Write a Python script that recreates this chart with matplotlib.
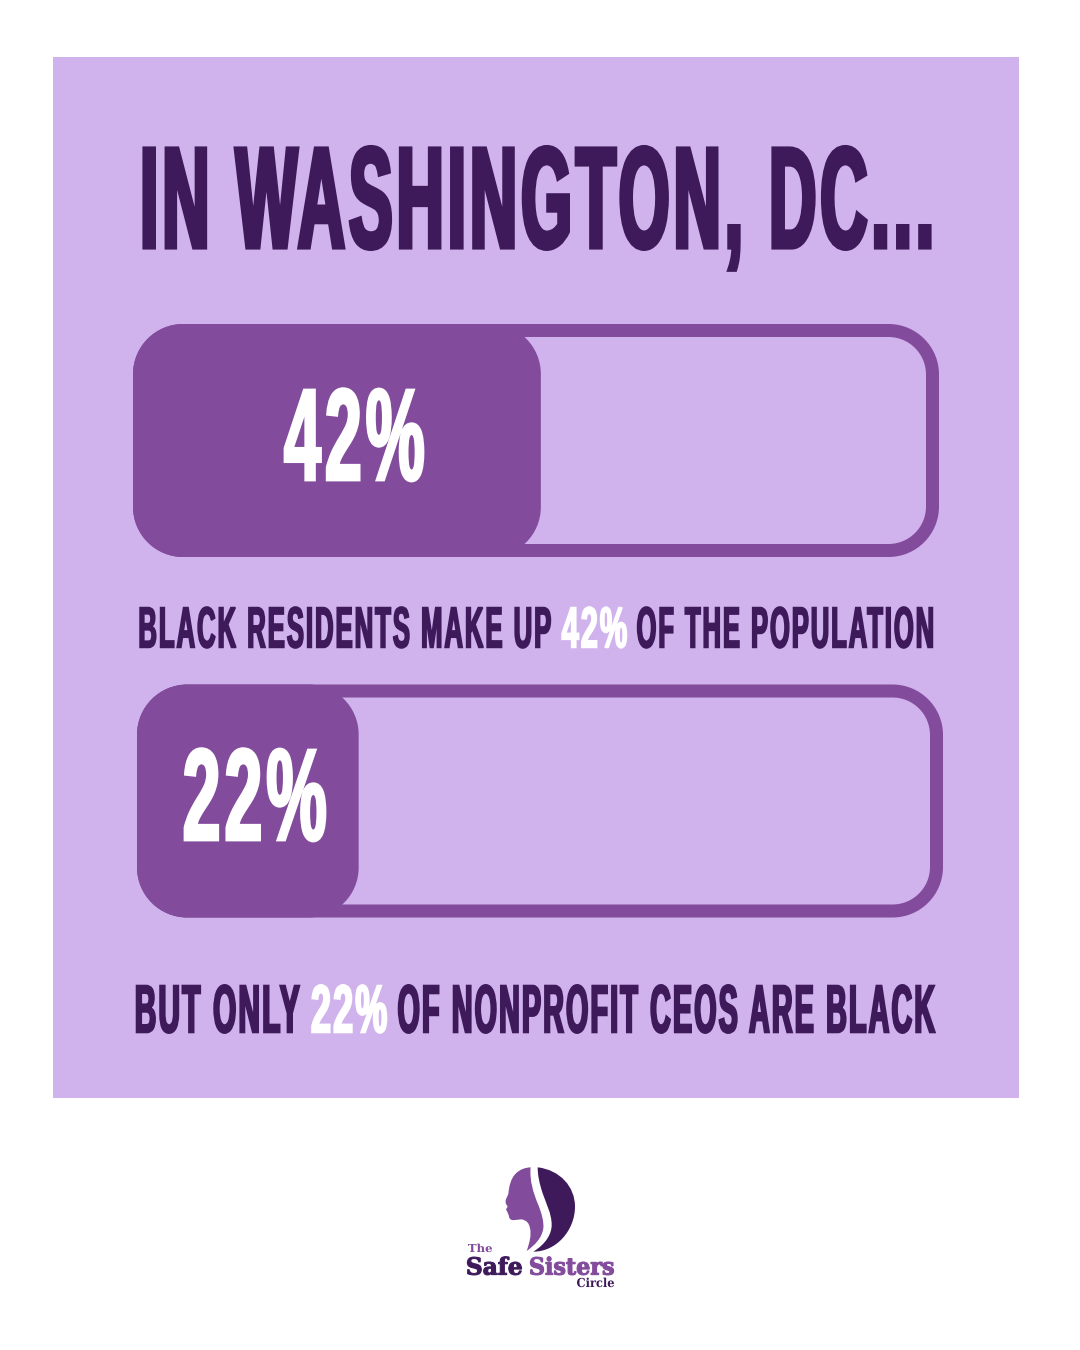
from bisect import bisect_right

import matplotlib
matplotlib.use("Agg")
import matplotlib.pyplot as plt
import numpy as np
from matplotlib import font_manager as fm
from matplotlib.font_manager import FontProperties
from matplotlib.patches import PathPatch, Rectangle
from matplotlib.path import Path
from matplotlib.patheffects import AbstractPathEffect
from matplotlib.textpath import TextPath, text_to_path
from matplotlib.transforms import Affine2D

# data
title = "IN WASHINGTON, DC..."
bar_labels = ["42%", "22%"]
bar_lengths = [50.6, 27.5]  # drawn share of the track, the fill is not to scale with the label
caption_1 = ["BLACK RESIDENTS MAKE UP", "42%", "OF THE POPULATION"]
caption_2 = ["BUT ONLY", "22%", "OF NONPROFIT CEOS ARE BLACK"]

# colours
PANEL = "#D0B3EC"
FILL = "#824B9C"
DARK = "#3E1A5B"
WHITE = "#FFFFFF"

names = {f.name for f in fm.fontManager.ttflist}
NARROW = "Liberation Sans Narrow" if "Liberation Sans Narrow" in names else "Liberation Sans"


class Tall(AbstractPathEffect):
    # stretch the glyphs upward from the baseline, open up the letter spacing, optionally thicken
    def __init__(self, base, sy, edges, shift, fatten=0):
        super().__init__()
        self.base, self.sy, self.edges, self.shift, self.fatten = base, sy, edges, shift, fatten

    def spaced(self, tpath):
        verts = np.array(tpath.vertices, dtype=float)
        codes = tpath.codes
        starts = list(np.flatnonzero(codes == Path.MOVETO)) + [len(verts)]
        for a, b in zip(starts[:-1], starts[1:]):
            keep = codes[a:b] != Path.CLOSEPOLY
            mid = (verts[a:b][keep, 0].min() + verts[a:b][keep, 0].max()) / 2
            verts[a:b, 0] += bisect_right(self.edges, mid) * self.shift
        return Path(verts, codes)

    def draw_path(self, renderer, gc, tpath, affine, rgbFace=None):
        tall = affine + Affine2D().translate(0, -self.base).scale(1, self.sy).translate(0, self.base)
        path = self.spaced(tpath)
        if self.fatten:
            gc0 = renderer.new_gc()
            gc0.copy_properties(gc)
            gc0.set_foreground(rgbFace)
            gc0.set_linewidth(self.fatten)
            gc0.set_joinstyle("miter")
            renderer.draw_path(gc0, path, tall, rgbFace)
            gc0.restore()
        else:
            renderer.draw_path(gc, path, tall, rgbFace)


def fit_text(ax, s, x0, x1, top, bottom, color, family=NARROW, fatten=0, gap=0):
    # real text whose ink fills x0..x1 and whose capitals fill top..bottom, in pixels
    fp = FontProperties(family=family, weight="bold", size=100)
    cap = TextPath((0, 0), "H", size=100, prop=fp).get_extents().height
    ext = TextPath((0, 0), s, size=100, prop=fp).get_extents()
    edges = [text_to_path.get_text_width_height_descent(s[:i], fp, False)[0] for i in range(1, len(s))]
    # font size comes from the width, the height is then stretched to fit
    k = (x1 - x0 - fatten - gap * (len(s) - 1)) / ext.width
    sy = (bottom - top - fatten) / (cap * k)
    base = bottom - fatten / 2
    ax.text(x0 + fatten / 2 - ext.x0 * k, base, s, color=color, family=family, weight="bold",
            fontsize=k * 100 * 0.72, ha="left", va="baseline",
            path_effects=[Tall(1350 - base, sy, edges, gap / k, fatten)])


def rounded(x, y, w, h, r):
    # rounded box with real circular corners
    c = r * (1 - 0.5523)
    x1, y1 = x + w, y + h
    verts = [(x + r, y), (x1 - r, y), (x1 - c, y), (x1, y + c), (x1, y + r),
             (x1, y1 - r), (x1, y1 - c), (x1 - c, y1), (x1 - r, y1),
             (x + r, y1), (x + c, y1), (x, y1 - c), (x, y1 - r),
             (x, y + r), (x, y + c), (x + c, y), (x + r, y), (x + r, y)]
    codes = [Path.MOVETO, Path.LINETO] + [Path.CURVE4] * 3 + [Path.LINETO] + [Path.CURVE4] * 3 \
        + [Path.LINETO] + [Path.CURVE4] * 3 + [Path.LINETO] + [Path.CURVE4] * 3 + [Path.CLOSEPOLY]
    return Path(verts, codes)


fig = plt.figure(figsize=(10.8, 13.5), dpi=100, facecolor="white")
ax = fig.add_axes([0, 0, 1, 1])
ax.set_xlim(0, 1080)
ax.set_ylim(1350, 0)
ax.axis("off")

ax.add_patch(Rectangle((53, 57), 966, 1041, fc=PANEL, ec="none"))

fit_text(ax, title, 143, 931, 147, 249, DARK, fatten=3, gap=4)

# progress bars
bar_x = [133, 137]
bar_y = [324, 684.5]
bar_w, bar_h, stroke = 806, 233, 13
for i in range(2):
    x, y = bar_x[i], bar_y[i]
    ax.add_patch(PathPatch(rounded(x + stroke / 2, y + stroke / 2, bar_w - stroke, bar_h - stroke, 44),
                           fc="none", ec=FILL, lw=stroke * 0.72))
    ax.add_patch(PathPatch(rounded(x, y, bar_w * bar_lengths[i] / 100, bar_h, 50), fc=FILL, ec="none"))

fit_text(ax, bar_labels[0], 284, 424, 389, 481, WHITE, fatten=2, gap=4)
fit_text(ax, bar_labels[1], 184, 326, 749, 841, WHITE, fatten=2, gap=4)

# captions, the middle piece is white
spans_1 = [(139.5, 551), (561.5, 627), (637, 933)]
spans_2 = [(136, 300), (311.5, 387), (398, 935.5)]
colors = [DARK, WHITE, DARK]
for s, (a, b), c in zip(caption_1, spans_1, colors):
    fit_text(ax, s, a, b, 607, 648, c, fatten=1.2, gap=2)
for s, (a, b), c in zip(caption_2, spans_2, colors):
    fit_text(ax, s, a, b, 985, 1033, c, fatten=1.5, gap=2.2)


# logo, outlines traced in the 3x crop of the logo
def logo_path(start, segs):
    verts = [start]
    codes = [Path.MOVETO]
    for seg in segs:
        verts += seg
        codes += [Path.LINETO] if len(seg) == 1 else [Path.CURVE4] * 3
    return Path([(440 + a / 3, 1150 + b / 3) for a, b in verts], codes)


crescent = logo_path((293, 52), [
    [(360, 60), (405, 110), (405, 170)],
    [(405, 240), (350, 305), (280, 305)],
    [(320, 280), (335, 250), (335, 225)],
    [(335, 190), (318, 160), (308, 130)],
    [(298, 100), (293, 75), (293, 52)],
])
face = logo_path((272, 52), [
    [(268, 90), (280, 130), (295, 165)],
    [(305, 190), (312, 215), (310, 235)],
    [(305, 265), (285, 285), (260, 303)],
    [(268, 280), (275, 255), (270, 235)],
    [(267, 220), (262, 212), (245, 208)],
    [(225, 210)],
    [(215, 212), (207, 208), (207, 198)],
    [(203, 188)], [(198, 178)], [(203, 170)], [(197, 160)], [(197, 150)], [(205, 132)],
    [(207, 110), (212, 85), (228, 70)],
    [(240, 58), (255, 53), (272, 52)],
])
ax.add_patch(PathPatch(crescent, fc=DARK, ec="none"))
ax.add_patch(PathPatch(face, fc=FILL, ec="none"))

logo_font = "DejaVu Serif"
fit_text(ax, "The", 468, 492, 1244, 1252, FILL, family=logo_font)
fit_text(ax, "Safe", 467, 522, 1257, 1275, DARK, family=logo_font, fatten=0.8)
fit_text(ax, "Sisters", 530, 614, 1257, 1275, FILL, family=logo_font, fatten=0.8)
fit_text(ax, "Circle", 577, 614, 1278, 1287, DARK, family=logo_font)

fig.savefig("out.png", dpi=100, facecolor="white")
